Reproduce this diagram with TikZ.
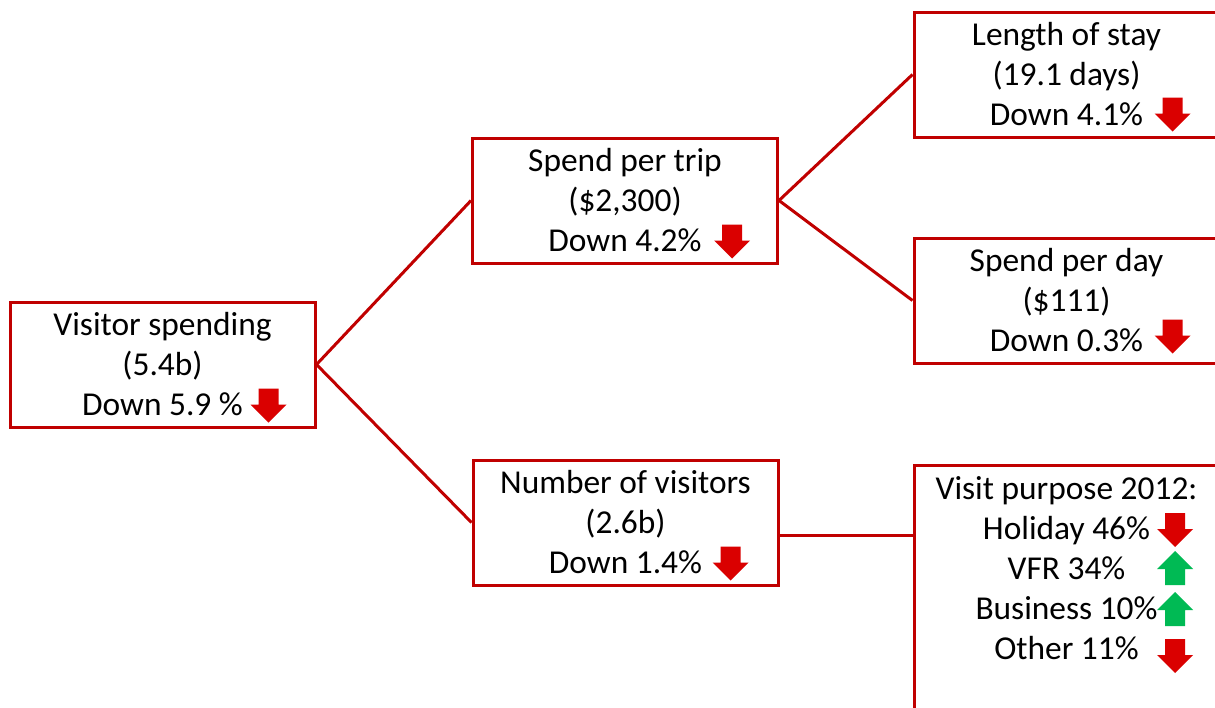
\documentclass[tikz,border=0pt]{standalone}
\usepackage{fontspec}
\setmainfont{Carlito}
\usepackage{xcolor}
\usepackage{tikz}
\definecolor{boxred}{RGB}{192,0,0}
\definecolor{arrred}{RGB}{218,0,0}
\definecolor{arrgreen}{RGB}{0,186,84}

\begin{document}
\begin{tikzpicture}[x=0.5pt, y=-0.5pt,
        every node/.style={font=\fontsize{16.7pt}{20pt}\selectfont, align=center},
        box/.style={rectangle, draw=boxred, line width=1.5pt, fill=white,
        minimum width=152.5pt, minimum height=62.5pt, inner sep=0pt},
        link/.style={draw=boxred, line width=1.5pt},
        downarr/.pic={\fill[arrred] (-10,-17) -- (10,-17) -- (10,-1) -- (18,-1)
            -- (0,17) -- (-18,-1) -- (-10,-1) -- cycle;},
        uparr/.pic={\fill[arrgreen] (-10,17) -- (10,17) -- (10,1) -- (18,1)
            -- (0,-17) -- (-18,1) -- (-10,1) -- cycle;}]
        \useasboundingbox (0,0) rectangle (1215,707);
        \clip (0,0) rectangle (1215,707);

        \node[box] (VS) at (162.5,364.5) {Visitor spending\\(5.4b)\\Down 5.9 \%};
        \node[box] (SPT) at (625,200.5) {Spend per trip\\(\$2,300)\\Down 4.2\%};
        \node[box] (NV) at (625.5,522.5) {Number of visitors\\(2.6b)\\Down 1.4\%};
        \node[box] (LOS) at (1066.5,74.5) {Length of stay\\(19.1 days)\\Down 4.1\%};
        \node[box] (SPD) at (1066.5,300.5) {Spend per day\\(\$111)\\Down 0.3\%};
        \node[box, minimum height=150pt, anchor=north] (VP) at (1066.5,464) {};
        \node (VPT) at (1066.5,568) {Visit purpose 2012:\\Holiday 46\%\\VFR 34\%\\Business 10\%\\Other 11\%};
        \coordinate (VPin) at (914,535);

        \draw[link] (VS.east) -- (SPT.west);
        \draw[link] (VS.east) -- (NV.west);
        \draw[link] (SPT.east) -- (LOS.west);
        \draw[link] (SPT.east) -- (SPD.west);
        \draw[link] (NV.east |- VPin) -- (VPin);

        \path (VS.center) ++(106,41) pic {downarr};
        \path (SPT.center) ++(107,41) pic {downarr};
        \path (NV.center) ++(105,41) pic {downarr};
        \path (LOS.center) ++(106,40) pic {downarr};
        \path (SPD.center) ++(106,36) pic {downarr};
        \pic at (1175,530) {downarr};
        \pic at (1175,568) {uparr};
        \pic at (1175,609) {uparr};
        \pic at (1175,656) {downarr};
    \end{tikzpicture}
\end{document}
